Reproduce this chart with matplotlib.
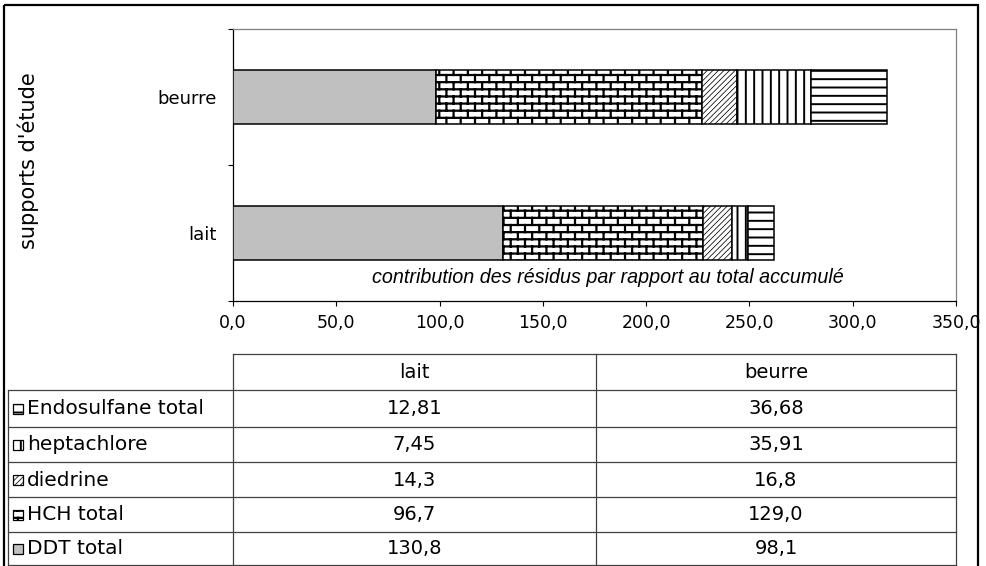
import warnings
import numpy as np
import matplotlib
matplotlib.use("Agg")
import matplotlib.pyplot as plt
import matplotlib.hatch as mhatch
from matplotlib.path import Path
from matplotlib.patches import Rectangle

warnings.filterwarnings("ignore")

# ---------------------------------------------------------------- data
supports = ["lait", "beurre"]
residus = ["DDT total", "HCH total", "diedrine", "heptachlore", "Endosulfane total"]
ddt_total = [130.8, 98.1]
hch_total = [96.7, 129.0]
diedrine = [14.3, 16.8]
heptachlore = [7.45, 35.91]
endosulfane_total = [12.81, 36.68]
decimales = [1, 1, 1, 2, 2]          # decimals shown in the table, per residue
x_ticks = [0, 50, 100, 150, 200, 250, 300, 350]

series = [ddt_total, hch_total, diedrine, heptachlore, endosulfane_total]


# ---------------------------------------------------------------- brick hatch
class BrickHatch(mhatch.HatchPatternBase):
    """Staggered brick pattern, selected with the 'B' hatch character."""
    rows = 14
    bricks = 7

    def __init__(self, hatch, density):
        self.on = hatch is not None and 'B' in hatch
        n_seg = self.rows + self.rows * self.bricks + self.bricks
        self.num_vertices = 2 * n_seg if self.on else 0

    def set_vertices_and_codes(self, vertices, codes):
        r, b = self.rows, self.bricks
        k = 0
        for i in range(r):
            yl = (i + 0.5) / r
            vertices[k] = (0.0, yl)
            vertices[k + 1] = (1.0, yl)
            k += 2
        for i in range(r):
            ylo = (i + 0.5) / r
            yhi = min((i + 1.5) / r, 1.0)
            off = 0.25 if i % 2 == 0 else 0.75
            for j in range(b):
                x = (j + off) / b
                vertices[k] = (x, ylo)
                vertices[k + 1] = (x, yhi)
                k += 2
        # wrap of the last course to the bottom of the tile
        for j in range(b):
            x = (j + 0.75) / b
            vertices[k] = (x, 0.0)
            vertices[k + 1] = (x, 0.5 / r)
            k += 2
        codes[0::2] = Path.MOVETO
        codes[1::2] = Path.LINETO


mhatch._hatch_types.append(BrickHatch)
_orig_validate = mhatch._validate_hatch_pattern


def _validate(h):
    if h is not None and 'B' in h:
        return
    _orig_validate(h)


mhatch._validate_hatch_pattern = _validate

plt.rcParams['font.family'] = ['DejaVu Sans']
plt.rcParams['hatch.linewidth'] = 1.0

styles = {
    "DDT total": dict(facecolor='#c0c0c0', hatch=None, hlw=1.0),
    "HCH total": dict(facecolor='white', hatch='B', hlw=1.6),
    "diedrine": dict(facecolor='white', hatch='//////', hlw=0.55),
    "heptachlore": dict(facecolor='white', hatch='||', hlw=1.4),
    "Endosulfane total": dict(facecolor='white', hatch='--', hlw=1.4),
}

W, H = 986, 566
fig = plt.figure(figsize=(W / 100, H / 100), dpi=100)
fig.patch.set_facecolor('white')

# ---------------------------------------------------------------- bar chart
ax = fig.add_axes([233 / W, 1 - 301 / H, (956 - 233) / W, (301 - 29) / H])
ypos = np.arange(len(supports))
left = np.zeros(len(supports))
for name, values in zip(residus, series):
    st = styles[name]
    bars = ax.barh(ypos, values, left=left, height=0.4,
                   facecolor=st['facecolor'], edgecolor='black',
                   linewidth=1.1, hatch=st['hatch'], zorder=3)
    for p in bars:
        if hasattr(p, 'set_hatch_linewidth'):
            p.set_hatch_linewidth(st['hlw'])
    left = left + np.array(values)

ax.set_xlim(x_ticks[0], x_ticks[-1])
ax.set_ylim(-0.5, len(supports) - 0.5)
ax.set_xticks(x_ticks)
ax.set_xticklabels([f"{v:.1f}".replace('.', ',') for v in x_ticks])
ax.set_yticks(np.arange(len(supports) + 1) - 0.5)
ax.set_yticklabels([])
ax.set_yticks(ypos, minor=True)
ax.set_yticklabels(supports, minor=True)
ax.tick_params(axis='y', which='major', direction='out', length=3.6, width=0.8)
ax.tick_params(axis='y', which='minor', length=0, pad=11.5, labelsize=13)
ax.tick_params(axis='x', direction='out', length=3.6, width=0.8, pad=5.5,
               labelsize=12.5)
for s in ('left', 'bottom'):
    ax.spines[s].set_color('black')
    ax.spines[s].set_linewidth(0.9)
for s in ('top', 'right'):
    ax.spines[s].set_color('#808080')
    ax.spines[s].set_linewidth(0.9)

fig.text(28 / W, 1 - 161 / H, "supports d'étude", rotation=90,
         ha='center', va='center', fontsize=15)
fig.text(608 / W, 1 - 278 / H,
         "contribution des résidus par rapport au total accumulé",
         ha='center', va='center', fontsize=14.2, style='italic',
         family=['Liberation Sans', 'DejaVu Sans'])

# ---------------------------------------------------------------- data table
tx = fig.add_axes([0, 0, 1, 1], zorder=-1)
tx.set_xlim(0, W)
tx.set_ylim(H, 0)
tx.axis('off')

# outer frame
tx.add_patch(Rectangle((4, 5), 974, 566, fill=False, edgecolor='black',
                       linewidth=1.6))

line_kw = dict(color='#404040', linewidth=0.9)
col_x = [233, 596, 956]
row_y = [390, 427, 462, 497, 532, 565]
head_top = 354
tx.plot([col_x[0], col_x[-1]], [head_top, head_top], **line_kw)
for x in col_x:
    tx.plot([x, x], [head_top, row_y[-1]], **line_kw)
tx.plot([8, 8], [row_y[0], row_y[-1]], **line_kw)
for y in row_y:
    tx.plot([8, col_x[-1]], [y, y], **line_kw)

col_c = [(col_x[i] + col_x[i + 1]) / 2 for i in range(len(supports))]
for c, name in zip(col_c, supports):
    tx.text(c, (head_top + row_y[0]) / 2, name, ha='center', va='center',
            fontsize=14)

order = list(range(len(residus)))[::-1]
for r, k in enumerate(order):
    yc = (row_y[r] + row_y[r + 1]) / 2
    name = residus[k]
    st = styles[name]
    key = Rectangle((13, yc - 5), 10, 10, facecolor=st['facecolor'],
                    edgecolor='black', linewidth=0.9, hatch=st['hatch'])
    if hasattr(key, 'set_hatch_linewidth'):
        key.set_hatch_linewidth(st['hlw'])
    tx.add_patch(key)
    tx.text(27, yc + 0.5, name, ha='left', va='center', fontsize=14.5)
    for c, v in zip(col_c, series[k]):
        tx.text(c, yc + 0.5, f"{v:.{decimales[k]}f}".replace('.', ','),
                ha='center', va='center', fontsize=14)

fig.savefig("out.png", dpi=100, facecolor='white')
